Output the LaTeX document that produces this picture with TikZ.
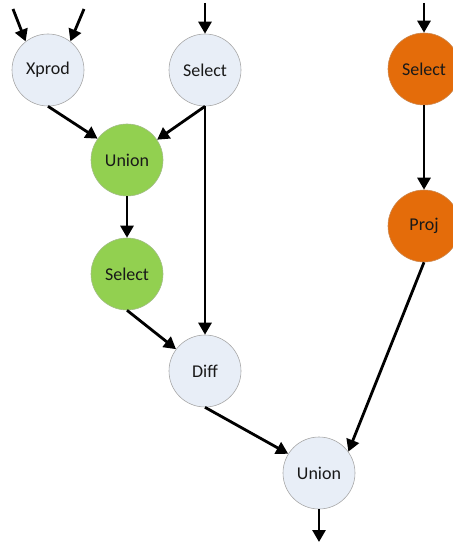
\documentclass[tikz,border=0pt]{standalone}
\usepackage{fontspec}
\setmainfont{Carlito}
\usetikzlibrary{arrows.meta}
\definecolor{paleblue}{HTML}{E8EEF7}
\definecolor{leafgreen}{HTML}{92D050}
\definecolor{burntorange}{HTML}{E46C0A}
\definecolor{rimgray}{HTML}{A8A8A8}
\tikzset{
  op/.style={circle, draw=rimgray, line width=0.6pt, minimum size=72pt,
    inner sep=0pt, font=\fontsize{18}{21}\selectfont, text=black!90},
  plain/.style={op, fill=paleblue},
  greenop/.style={op, fill=leafgreen, draw=leafgreen!70!black!60},
  orangeop/.style={op, fill=burntorange, draw=burntorange!80!black!70},
  flow/.style={line width=2.8pt, -{Triangle[length=12pt,width=13pt]}}
}
\begin{document}
\begin{tikzpicture}[x=1pt,y=-1pt]
  \useasboundingbox (0,0) rectangle (452,545);

  % operator nodes
  \node[plain]    (xprod)  at (48,70)   {Xprod};
  \node[plain]    (sel1)   at (205,70)  {Select};
  \node[orangeop] (sel3)   at (424,69)  {Select};
  \node[greenop]  (union1) at (127,160) {Union};
  \node[greenop]  (sel2)   at (127,274) {Select};
  \node[orangeop] (proj)   at (424,226) {Proj};
  \node[plain]    (diff)   at (205,371) {Diff};
  \node[plain]    (union2) at (319,473) {Union};

  % free ends of the inputs and the output
  \coordinate (inA) at (13,9);
  \coordinate (inB) at (84,9);
  \coordinate (inC) at (205,3);
  \coordinate (inD) at (424,3);
  \coordinate (out) at (319,542);

  % inputs
  \draw[flow] (inA) -- (xprod.128);
  \draw[flow] (inB) -- (xprod.52);
  \draw[flow] (inC) -- (sel1.north);
  \draw[flow] (inD) -- (sel3.north);

  % data flow between operators
  \draw[flow] (xprod.south) -- (union1.144);
  \draw[flow] (sel1.south)  -- (union1.34);
  \draw[flow] (sel1.south)  -- (diff.north);
  \draw[flow] (union1.south) -- (sel2.north);
  \draw[flow] (sel2.south)  -- (diff.143);
  \draw[flow] (sel3.south)  -- (proj.north);
  \draw[flow] (diff.south)  -- (union2.148);
  \draw[flow] (proj.south)  -- (union2.36);
  \draw[flow] (union2.south) -- (out);
\end{tikzpicture}
\end{document}
